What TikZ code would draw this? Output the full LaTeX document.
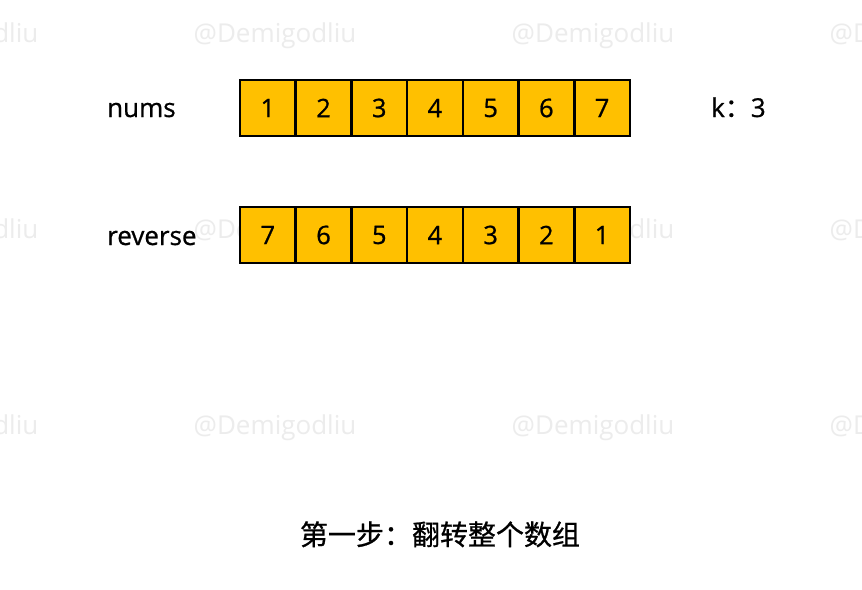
\documentclass[tikz,border=0pt]{standalone}
\usepackage{fontspec}
\setmainfont{Open Sans}[FakeBold=0.8]
\newfontfamily\cjk{Noto Sans CJK SC}[FakeBold=0.8]
\newfontfamily\wmfont{Open Sans}
\usetikzlibrary{positioning}
\definecolor{cellfill}{HTML}{FFC000}
\definecolor{wmgray}{HTML}{ECECEC}

\begin{document}
\begin{tikzpicture}[x=1pt,y=-1pt,
  cell/.style={draw,line width=2.6pt,fill=cellfill,minimum width=55.7pt,minimum height=56pt,inner sep=0pt,outer sep=0pt,font=\fontsize{25.5}{30}\selectfont},
  lbl/.style={anchor=base west,inner sep=0pt,font=\fontsize{26}{30}\selectfont},
  wm/.style={text=wmgray,inner sep=0pt,font=\wmfont\fontsize{26}{30}\selectfont}]
\useasboundingbox[fill=white] (0,0) rectangle (862,589);
\clip (0,0) rectangle (862,589);
% watermark
\foreach \y [count=\j] in {36,232,428}
  \foreach \x [count=\i] in {-43,275,593,911}
    \node[wm] (wm\j-\i) at (\x,\y) {@Demigodliu};
% arrays
\foreach \v [count=\i] in {1,...,7}
  \node[cell] (n\i) at (212.15+55.7*\i,108) {\v};
\foreach \v [count=\i] in {7,6,...,1}
  \node[cell] (r\i) at (212.15+55.7*\i,235) {\v};
\node[lbl] (nums) at (107,117) {nums};
\node[lbl] (rev) at (107,245) {reverse};
\node[lbl] (k) at (711,117) {k{\cjk ：}3};
\node[anchor=base,inner sep=0pt,font=\cjk\fontsize{28}{30}\selectfont] (caption) at (440,545) {第一步：翻转整个数组};
\end{tikzpicture}
\end{document}
